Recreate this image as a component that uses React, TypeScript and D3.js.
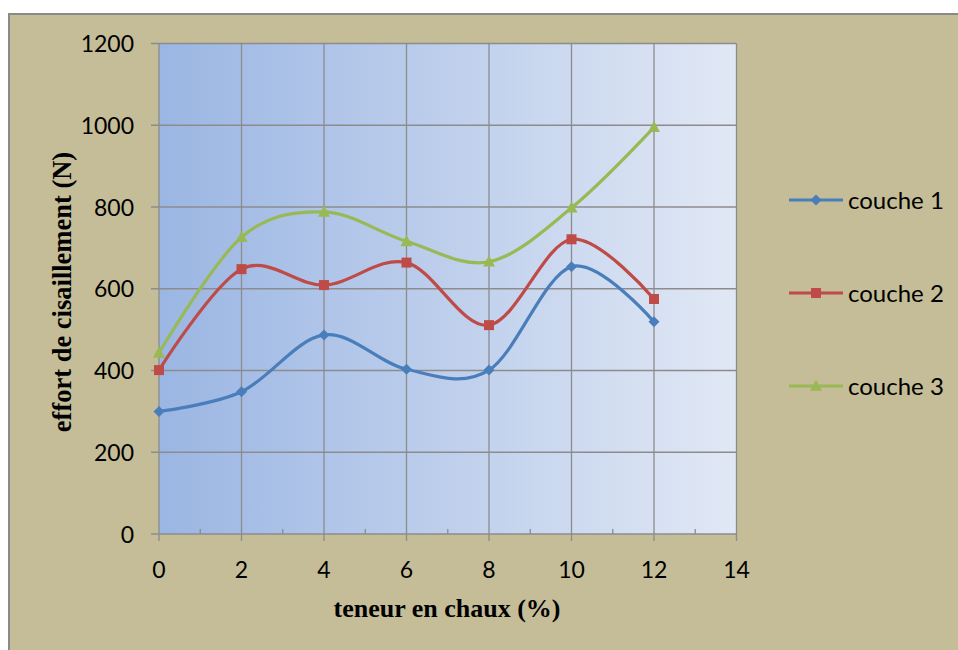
import React from "react";
import * as d3 from "d3";

const xTicks = [0, 2, 4, 6, 8, 10, 12, 14];
const xMinorTicks = [1, 3, 5, 7, 9, 11, 13];
const yTicks = [0, 200, 400, 600, 800, 1000, 1200];
const teneur = [0, 2, 4, 6, 8, 10, 12];
const couche1 = [300, 348, 487, 403, 401, 654, 519];
const couche2 = [401, 648, 609, 664, 511, 721, 575];
const couche3 = [443, 726, 788, 716, 666, 798, 995];
const seriesNames = ["couche 1", "couche 2", "couche 3"];
const seriesColors = ["#4a7ebb", "#be4b48", "#98b954"];
const seriesMarkers = ["diamond", "square", "triangle"];
const xTitle = "teneur en chaux (%)";
const yTitle = "effort de cisaillement (N)";

const W = 958;
const H = 650;
const left = 159;
const right = 736.5;
const top = 43.5;
const bottom = 534;

function Marker({ kind, x, y, color }: { kind: string; x: number; y: number; color: string }) {
  if (kind === "diamond") {
    const s = 5.5;
    return <path d={`M${x},${y - s}L${x + s},${y}L${x},${y + s}L${x - s},${y}Z`} fill={color} />;
  }
  if (kind === "square") {
    const s = 5;
    return <rect x={x - s} y={y - s} width={2 * s} height={2 * s} fill={color} />;
  }
  const s = 6;
  return <path d={`M${x},${y - s * 1.1}L${x + s},${y + s * 0.8}L${x - s},${y + s * 0.8}Z`} fill={color} />;
}

export default function App() {
  const x = d3.scaleLinear().domain([0, 14]).range([left, right]);
  const y = d3.scaleLinear().domain([0, 1200]).range([bottom, top]);
  const data = [couche1, couche2, couche3];
  const line = d3
    .line<number>()
    .x((_, i) => x(teneur[i]))
    .y((d) => y(d))
    .curve(d3.curveCardinal.tension(0));
  const grid = "#8c8c8c";
  const legendY = [200, 293, 386];

  return (
    <div style={{ position: "absolute", left: 0, top: 0 }}>
      <svg width={W} height={H} style={{ display: "block" }}>
        <defs>
          <linearGradient id="plotbg" x1="0" y1="0" x2="1" y2="0">
            <stop offset="0" stopColor="#9bb6e3" />
            <stop offset="1" stopColor="#e1e8f5" />
          </linearGradient>
        </defs>
        <rect x={0} y={0} width={W} height={H} fill="#ffffff" />
        <rect x={9} y={14} width={W + 10} height={H + 10} fill="#c4bd97" stroke="#8a8a8a" strokeWidth={2} />
        <rect x={left} y={top} width={right - left} height={bottom - top} fill="url(#plotbg)" />
        {yTicks.map((t) => (
          <line key={"gy" + t} x1={left - 8} x2={right} y1={y(t)} y2={y(t)} stroke={grid} strokeWidth={1.3} />
        ))}
        {xTicks.map((t) => (
          <line key={"gx" + t} x1={x(t)} x2={x(t)} y1={top} y2={bottom + 7} stroke={grid} strokeWidth={1.3} />
        ))}
        {xMinorTicks.map((t) => (
          <line key={"mx" + t} x1={x(t)} x2={x(t)} y1={bottom - 5} y2={bottom} stroke={grid} strokeWidth={1.3} />
        ))}
        {yTicks.map((t) => (
          <text
            key={"ly" + t}
            x={134}
            y={y(t) + 8.5}
            textAnchor="end"
            fontFamily="Lato, 'Open Sans', sans-serif"
            fontSize={23}
            fill="#000"
          >
            {t}
          </text>
        ))}
        {xTicks.map((t) => (
          <text
            key={"lx" + t}
            x={x(t)}
            y={577.5}
            textAnchor="middle"
            fontFamily="Lato, 'Open Sans', sans-serif"
            fontSize={23}
            fill="#000"
          >
            {t}
          </text>
        ))}
        {data.map((vals, si) => (
          <g key={"s" + si}>
            <path d={line(vals) || ""} fill="none" stroke={seriesColors[si]} strokeWidth={3.2} strokeLinejoin="round" />
            {vals.map((v, i) => (
              <Marker key={i} kind={seriesMarkers[si]} x={x(teneur[i])} y={y(v)} color={seriesColors[si]} />
            ))}
          </g>
        ))}
        {seriesNames.map((n, i) => (
          <g key={"lg" + i}>
            <line x1={789} x2={843} y1={legendY[i]} y2={legendY[i]} stroke={seriesColors[i]} strokeWidth={3.2} />
            <Marker kind={seriesMarkers[i]} x={816} y={legendY[i]} color={seriesColors[i]} />
            <text
              x={848}
              y={legendY[i] + 8.5}
              fontFamily="Lato, 'Open Sans', sans-serif"
              fontSize={24}
              fill="#000"
            >
              {n}
            </text>
          </g>
        ))}
        <text
          x={447}
          y={617}
          textAnchor="middle"
          fontFamily="'Liberation Serif', 'Times New Roman', serif"
          fontWeight="bold"
          fontSize={26}
          fill="#000"
        >
          {xTitle}
        </text>
        <text
          transform={`translate(71,292) rotate(-90)`}
          textAnchor="middle"
          fontFamily="'Liberation Serif', 'Times New Roman', serif"
          fontWeight="bold"
          fontSize={26.5}
          fill="#000"
        >
          {yTitle}
        </text>
      </svg>
    </div>
  );
}
